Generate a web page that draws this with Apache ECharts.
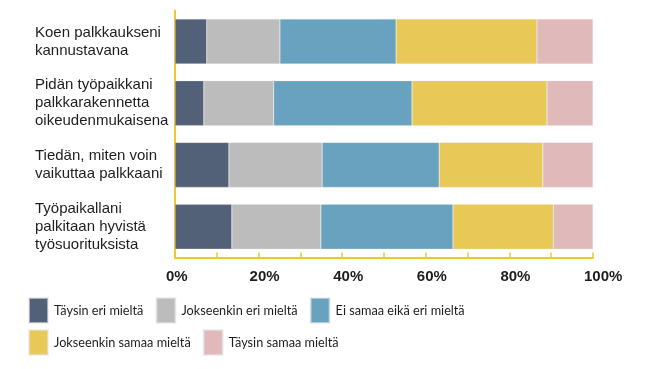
<!DOCTYPE html>
<html>
<head>
<meta charset="utf-8">
<script src="https://cdn.jsdelivr.net/npm/echarts@6/dist/echarts.min.js"></script>
<style>
html,body{margin:0;padding:0;background:#fff;}
#c{width:650px;height:369px;}
</style>
</head>
<body>
<div id="c"></div>
<script>
const categories = [
  "Koen palkkaukseni\nkannustavana",
  "Pidän työpaikkani\npalkkarakennetta\noikeudenmukaisena",
  "Tiedän, miten voin\nvaikuttaa palkkaani",
  "Työpaikallani\npalkitaan hyvistä\ntyösuorituksista"
];
const seriesNames = [
  "Täysin eri mieltä",
  "Jokseenkin eri mieltä",
  "Ei samaa eikä eri mieltä",
  "Jokseenkin samaa mieltä",
  "Täysin samaa mieltä"
];
const taysinEri = [7.6, 6.9, 12.9, 13.6];
const jokseenkinEri = [17.5, 16.7, 22.3, 21.3];
const eiSamaaEikaEri = [27.8, 33.1, 28.0, 31.6];
const jokseenkinSamaa = [33.7, 32.3, 24.8, 24.0];
const taysinSamaa = [13.4, 11.0, 12.0, 9.5];
const colors = ["#536178", "#bcbcbc", "#68a2bf", "#e8c857", "#e0b9ba"];

const values = [taysinEri, jokseenkinEri, eiSamaaEikaEri, jokseenkinSamaa, taysinSamaa];
const axisColor = "#f2c72e";
const textColor = "#1e1e1e";

const chart = echarts.init(document.getElementById('c'), null, {renderer: 'canvas'});
chart.setOption({
  animation: false,
  color: colors,
  grid: {left: 175, right: 57, top: 10.5, bottom: 111.5, containLabel: false},
  xAxis: {
    type: 'value', min: 0, max: 100, interval: 10,
    axisLine: {show: true, lineStyle: {color: axisColor, width: 2}},
    axisTick: {show: true, inside: true, length: 5, lineStyle: {color: axisColor, width: 1.5}},
    splitLine: {show: false},
    axisLabel: {
      formatter: v => (v % 20 === 0 ? v + '%' : ''),
      fontFamily: 'Liberation Sans', fontWeight: 'bold', fontSize: 15,
      color: textColor, margin: 12, align: 'left', padding: [0, 0, 0, -9]
    }
  },
  yAxis: {
    type: 'category', data: categories, inverse: true,
    axisLine: {show: true, lineStyle: {color: axisColor, width: 2}},
    axisTick: {show: false},
    axisLabel: {
      align: 'left', margin: 140, fontFamily: 'Liberation Sans', fontSize: 15,
      lineHeight: 18, color: textColor
    }
  },
  legend: [
    {
      data: seriesNames.slice(0, 3), left: 23, top: 292, orient: 'horizontal',
      icon: 'rect', itemWidth: 19, itemHeight: 25, itemGap: 12,
      textStyle: {fontFamily: 'Lato', fontSize: 12.7, color: textColor, padding: [0, 0, 0, 1]}
    },
    {
      data: seriesNames.slice(3), left: 23, top: 324, orient: 'horizontal',
      icon: 'rect', itemWidth: 19, itemHeight: 25, itemGap: 12,
      textStyle: {fontFamily: 'Lato', fontSize: 12.7, color: textColor, padding: [0, 0, 0, 1]}
    }
  ],
  series: seriesNames.map((n, i) => ({
    name: n, type: 'bar', stack: 'total', data: values[i], barWidth: 45,
    itemStyle: {color: colors[i], borderColor: 'rgba(230,230,230,0.6)', borderWidth: 0.5}
  }))
});
</script>
</body>
</html>
